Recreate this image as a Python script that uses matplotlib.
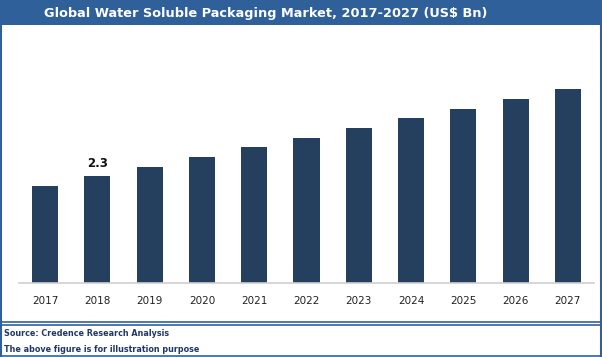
import matplotlib.pyplot as plt
from matplotlib.patches import Rectangle
from matplotlib.lines import Line2D

years = ["2017", "2018", "2019", "2020", "2021", "2022", "2023", "2024", "2025", "2026", "2027"]
market_size = [2.08, 2.30, 2.49, 2.71, 2.92, 3.12, 3.33, 3.55, 3.74, 3.96, 4.17]
labelled = {"2018": "2.3"}

title = "Global Water Soluble Packaging Market, 2017-2027 (US$ Bn)"
source_lines = ["Source: Credence Research Analysis",
                "The above figure is for illustration purpose"]

W, H = 602, 357
BAR = "#253F5F"
FRAME = "#30609A"
NAVY = "#1F3864"

fig = plt.figure(figsize=(W / 100, H / 100), dpi=100)
fig.patch.set_facecolor("white")


def fx(px):
    return px / W


def fy(py):
    return 1 - py / H


# title bar and frame
fig.patches.append(Rectangle((0, fy(25)), 1, 25 / H, transform=fig.transFigure,
                             facecolor=FRAME, edgecolor="none", zorder=0))
fig.text(fx(266), fy(13), title, color="white", fontsize=9.3, fontweight="bold",
         ha="center", va="center")
for x in (fx(1), fx(600.5)):
    fig.add_artist(Line2D([x, x], [fy(356), fy(25)], color=FRAME, lw=1.5))
for y in (fy(322), fy(325), fy(356)):
    fig.add_artist(Line2D([0, 1], [y, y], color=FRAME, lw=1.2))

fig.text(fx(4), fy(333), source_lines[0], color=NAVY, fontsize=5.8, fontweight="bold",
         ha="left", va="center")
fig.text(fx(4), fy(350), source_lines[1], color=NAVY, fontsize=5.8, fontweight="bold",
         ha="left", va="center")

# plot area
ax = fig.add_axes([fx(19), fy(283), fx(594) - fx(19), (283 - 35) / H])
xs = range(len(years))
ax.bar(xs, market_size, width=0.5, color=BAR, zorder=2)
ax.set_xlim(-0.5, len(years) - 0.5)
ax.set_ylim(0, 248 * 2.3 / 107)
ax.set_xticks(list(xs))
ax.set_xticklabels(years, fontsize=7.5, color="#222222")
ax.tick_params(axis="x", length=0, pad=9)
ax.set_yticks([])
for side in ("left", "right", "top"):
    ax.spines[side].set_visible(False)
ax.spines["bottom"].set_color("#D0D0D0")
ax.spines["bottom"].set_linewidth(1.2)
ax.patch.set_alpha(0)

for i, yr in enumerate(years):
    if yr in labelled:
        ax.text(i, market_size[i] + 0.12, labelled[yr], ha="center", va="bottom",
                fontsize=8.5, fontweight="bold", color="#111111")

fig.savefig("out.png", dpi=100)
